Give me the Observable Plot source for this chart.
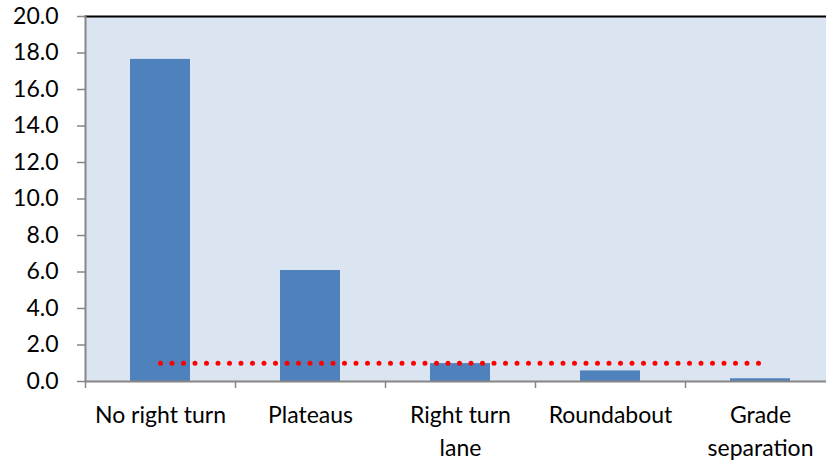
<!DOCTYPE html>
<html>
<head>
<meta charset="utf-8">
<script src="https://cdn.jsdelivr.net/npm/d3@7"></script>
<script src="https://cdn.jsdelivr.net/npm/@observablehq/plot@0.6"></script>
<style>
  html, body { margin: 0; padding: 0; background: #fff; overflow: hidden; }
  #chart { width: 826px; height: 461px; overflow: hidden; }
  #chart svg { max-width: none !important; }
</style>
</head>
<body>
<div id="chart"></div>
<script>
const categories = ["No right turn", "Plateaus", "Right turn\nlane", "Roundabout", "Grade\nseparation"];
const values = [17.65, 6.08, 0.98, 0.58, 0.15];
const threshold = 1.0;
const yTicks = [0, 2, 4, 6, 8, 10, 12, 14, 16, 18, 20];

const bars = categories.map((c, i) => ({i, c, v: values[i]}));
const boundaries = d3.range(categories.length + 1);
const centers = categories.map((c, i) => i + 0.5);
const refLine = [{x: centers[0], y: threshold}, {x: centers[centers.length - 1], y: threshold}];

const gray = "#868686";
const font = "Lato, 'Open Sans', sans-serif";

const plot = Plot.plot({
  width: 835,
  height: 461,
  marginLeft: 85,
  marginRight: 0,
  marginTop: 16,
  marginBottom: 80,
  style: {fontFamily: font, fontSize: "23px", color: "#000", background: "#fff", maxWidth: "none", overflow: "visible"},
  x: {domain: [0, categories.length], axis: null},
  y: {domain: [0, 20], axis: null},
  marks: [
    Plot.frame({fill: "#DBE5F1", stroke: null}),
    Plot.rectY(bars, {x1: d => d.i + 0.3, x2: d => d.i + 0.7, y: "v", fill: "#4F81BD"}),
    Plot.lineY(refLine, {x: "x", y: "y", stroke: "#FF0000", strokeWidth: 5, strokeDasharray: "0 11.5", strokeLinecap: "round"}),
    Plot.frame({anchor: "top", stroke: "#000", strokeWidth: 2}),
    Plot.ruleX([0], {stroke: gray, strokeWidth: 2}),
    Plot.ruleY([0], {stroke: gray, strokeWidth: 2}),
    Plot.axisY({ticks: yTicks, tickFormat: d3.format(".1f"), tickSize: 8, tickPadding: 19, stroke: gray, strokeWidth: 1.5, fontSize: 23, fill: "#000", label: null}),
    Plot.axisX({ticks: boundaries, tickFormat: () => "", tickSize: 7, stroke: gray, strokeWidth: 1.5, label: null}),
    Plot.axisX({ticks: centers, tickFormat: t => categories[Math.floor(t)], tickSize: 0, tickPadding: 19, fontSize: 23, lineHeight: 1.4, fill: "#000", label: null})
  ]
});
document.getElementById("chart").appendChild(plot);
</script>
</body>
</html>
